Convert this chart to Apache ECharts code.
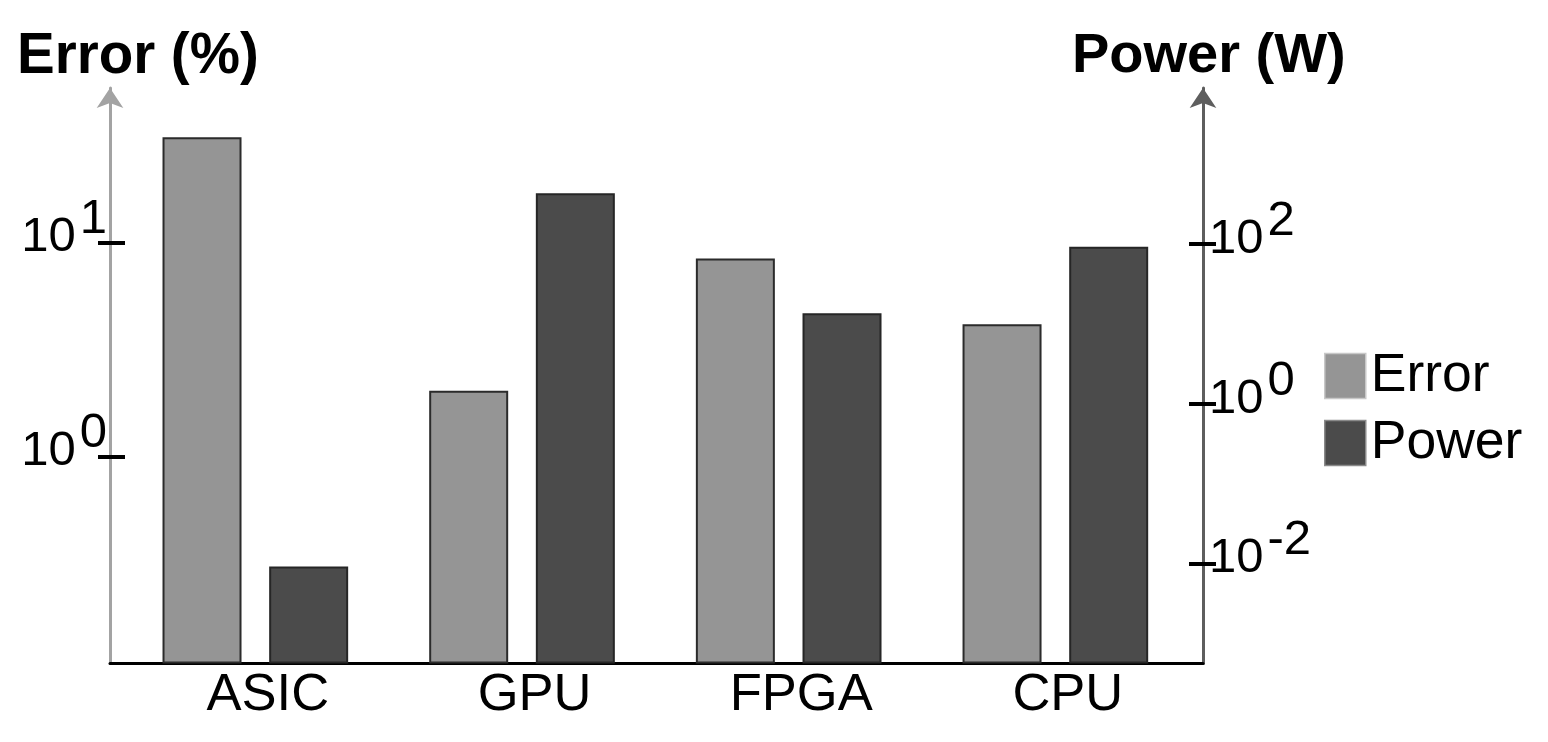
<!DOCTYPE html>
<html>
<head>
<meta charset="utf-8">
<script src="https://cdn.jsdelivr.net/npm/echarts@6/dist/echarts.min.js"></script>
<style>
html,body{margin:0;padding:0;background:#fff;}
#chart{width:1548px;height:742px;}
</style>
</head>
<body>
<div id="chart"></div>
<script>
// ---- data ----
const categories = ['ASIC', 'GPU', 'FPGA', 'CPU'];
const errorValues = [31.2, 2.04, 8.45, 4.17];      // Error (%)
const powerValues = [0.0093, 430, 13.6, 92.5];     // Power (W)
const leftTicks = [1, 10];
const rightTicks = [0.01, 1, 100];
const seriesNames = ['Error', 'Power'];

// ---- layout / style ----
const FONT = '"Liberation Sans", Arial, Helvetica, sans-serif';
const leftMinExp = -0.965, leftMaxExp = 1.724;
const rightMinExp = -3.244, rightMaxExp = 3.95;
const GRID_TOP = 88, GRID_BOTTOM = 78.5;

function expLabel(v) {
  const e = Math.round(Math.log10(v));
  return '{b|10}{s|' + (e < 0 ? '-' : '') + Math.abs(e) + '}';
}
const richLabel = {
  b: { fontSize: 49, fontFamily: FONT, color: '#000', verticalAlign: 'bottom', lineHeight: 49 },
  s: { fontSize: 49, fontFamily: FONT, color: '#000', verticalAlign: 'bottom', lineHeight: 49, padding: [0, 0, 18, 4] }
};

function logAxis(opts) {
  return Object.assign({
    type: 'log',
    logBase: 10,
    gridIndex: 0,
    splitLine: { show: false },
    minorTick: { show: false },
    minorSplitLine: { show: false }
  }, opts);
}

const chart = echarts.init(document.getElementById('chart'), null, { renderer: 'canvas' });

const option = {
  backgroundColor: '#fff',
  animation: false,
  title: [
    { text: 'Error (%)', left: 17, top: 29, padding: 0,
      textStyle: { fontFamily: FONT, fontSize: 56.5, fontWeight: 'bold', color: '#000', lineHeight: 56 } },
    { text: 'Power (W)', left: 1072, top: 29, padding: 0,
      textStyle: { fontFamily: FONT, fontSize: 56, fontWeight: 'bold', color: '#000', lineHeight: 56 } }
  ],
  legend: {
    orient: 'vertical',
    left: 1324,
    top: 349,
    padding: 0,
    itemWidth: 41,
    itemHeight: 45,
    itemGap: 13,
    icon: 'rect',
    selectedMode: false,
    textStyle: { fontFamily: FONT, fontSize: 53.5, color: '#000', lineHeight: 50 },
    data: [
      { name: seriesNames[0], itemStyle: { borderColor: '#c8c8c8', borderWidth: 1.5 } },
      { name: seriesNames[1], itemStyle: { borderColor: '#8a8a8a', borderWidth: 1.5 } }
    ]
  },
  grid: [
    { left: 122, right: 1548 - 1188.7, top: GRID_TOP, bottom: GRID_BOTTOM },
    { left: 110, right: 1548 - 1203, top: GRID_TOP, bottom: GRID_BOTTOM }
  ],
  xAxis: [
    {
      type: 'category',
      gridIndex: 0,
      data: categories,
      axisLine: { show: false },
      axisTick: { show: false },
      axisLabel: {
        margin: 6,
        fontFamily: FONT, fontSize: 52.5, color: '#000', lineHeight: 52,
        padding: [0, 0, 0, 25]
      }
    },
    {
      type: 'value',
      gridIndex: 1,
      min: 0, max: 1,
      axisLine: { show: true, lineStyle: { color: '#000', width: 3 } },
      axisTick: { show: false },
      axisLabel: { show: false },
      splitLine: { show: false }
    }
  ],
  yAxis: [
    logAxis({
      position: 'left',
      offset: 12,
      min: Math.pow(10, leftMinExp),
      max: Math.pow(10, leftMaxExp),
      startValue: Math.pow(10, leftMinExp),
      axisLine: { show: true, symbol: ['none', 'arrow'], symbolSize: [20, 20],
        lineStyle: { color: '#a3a3a3', width: 3 } },
      axisTick: { show: true, customValues: leftTicks, length: 12, lineStyle: { color: '#000', width: 4 } },
      axisLabel: { customValues: leftTicks, margin: 3, formatter: expLabel, rich: richLabel, padding: [0, 0, 10, 0] }
    }),
    logAxis({
      position: 'right',
      offset: 14.3,
      min: Math.pow(10, rightMinExp),
      max: Math.pow(10, rightMaxExp),
      startValue: Math.pow(10, rightMinExp),
      axisLine: { show: true, symbol: ['none', 'arrow'], symbolSize: [20, 20],
        lineStyle: { color: '#5e5e5e', width: 3 } },
      axisTick: { show: true, customValues: rightTicks, length: 13, lineStyle: { color: '#000', width: 4 } },
      axisLabel: { customValues: rightTicks, margin: 6, formatter: expLabel, rich: richLabel, padding: [0, 0, 10, 0] }
    }),
    logAxis({
      position: 'left',
      offset: 12,
      min: Math.pow(10, leftMinExp),
      max: Math.pow(10, leftMaxExp),
      axisLine: { show: false },
      axisTick: { show: true, inside: true, customValues: leftTicks, length: 15, lineStyle: { color: '#000', width: 4 } },
      axisLabel: { show: false }
    }),
    logAxis({
      position: 'right',
      offset: 14.3,
      min: Math.pow(10, rightMinExp),
      max: Math.pow(10, rightMaxExp),
      axisLine: { show: false },
      axisTick: { show: true, inside: true, customValues: rightTicks, length: 14, lineStyle: { color: '#000', width: 4 } },
      axisLabel: { show: false }
    }),
    { type: 'value', gridIndex: 1, show: false, min: 0, max: 1 }
  ],
  series: [
    {
      name: seriesNames[0],
      type: 'bar',
      xAxisIndex: 0,
      yAxisIndex: 0,
      data: errorValues,
      barWidth: 79,
      barGap: '35%',
      itemStyle: { color: '#959595', borderColor: '#2b2b2b', borderWidth: 2 }
    },
    {
      name: seriesNames[1],
      type: 'bar',
      xAxisIndex: 0,
      yAxisIndex: 1,
      data: powerValues,
      barWidth: 79,
      barGap: '35%',
      itemStyle: { color: '#4b4b4b', borderColor: '#262626', borderWidth: 2 }
    }
  ]
};
chart.setOption(option);
</script>
</body>
</html>
